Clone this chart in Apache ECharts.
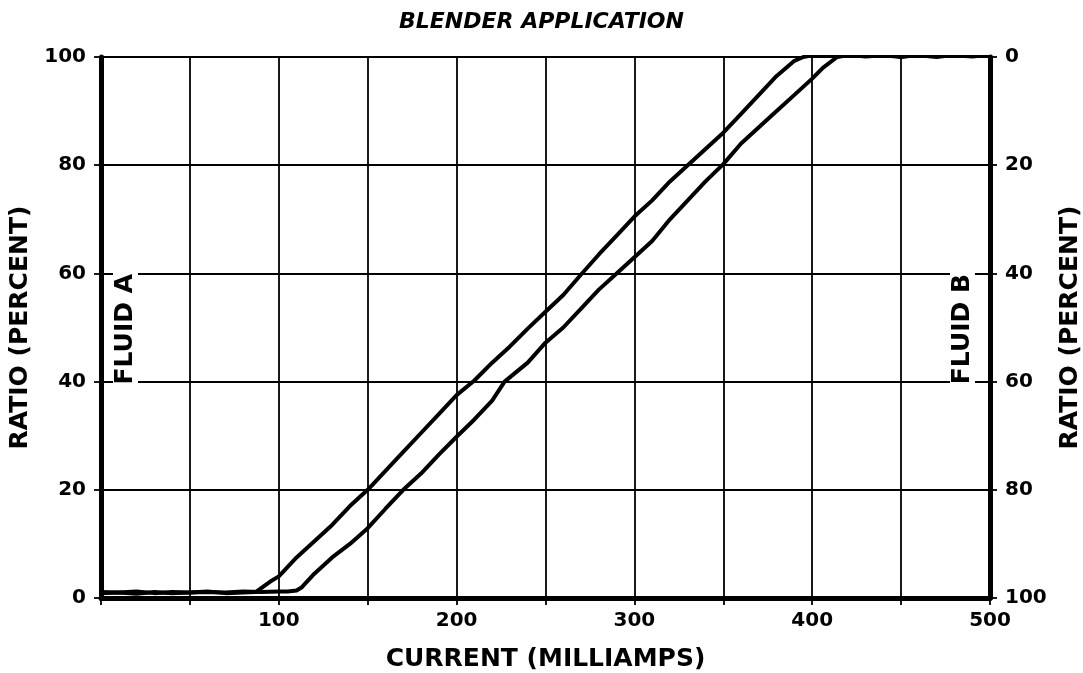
<!DOCTYPE html>
<html>
<head>
<meta charset="utf-8">
<script src="https://cdn.jsdelivr.net/npm/echarts@6/dist/echarts.min.js"></script>
<style>
html,body{margin:0;padding:0;background:#fff;}
#chart{width:1083px;height:673px;}
</style>
</head>
<body>
<div id="chart"></div>
<script>
// Curve A (rises first, upper-left branch)
const currentA = [0, 10, 20, 30, 40, 50, 60, 70, 80, 87, 95, 100, 110, 120, 130, 140, 150, 160, 170, 180, 190, 200, 210, 220, 230, 240, 250, 260, 270, 280, 290, 300, 310, 320, 330, 340, 350, 360, 370, 380, 390, 395, 400, 410, 420, 430, 440, 450, 460, 470, 480, 490, 500];
const ratioA   = [0.9, 1.0, 0.8, 1.1, 0.9, 1.0, 1.2, 0.9, 1.0, 1.1, 3.0, 4.0, 7.5, 10.5, 13.5, 17.0, 20.0, 23.5, 27.0, 30.5, 34.0, 37.5, 40.2, 43.5, 46.5, 49.8, 52.9, 56.0, 59.8, 63.5, 67.0, 70.5, 73.5, 77.0, 80.0, 83.0, 86.0, 89.5, 93.0, 96.5, 99.3, 100.0, 100.3, 100.2, 100.4, 100.1, 100.3, 100.0, 100.4, 100.2, 100.3, 100.1, 100.4];
// Curve B (rises later, lower-right branch)
const currentB = [0, 10, 20, 30, 40, 50, 60, 70, 80, 90, 100, 105, 110, 113, 120, 130, 140, 150, 160, 170, 180, 190, 200, 210, 220, 227, 240, 250, 260, 270, 280, 290, 300, 310, 320, 330, 340, 350, 360, 370, 380, 390, 400, 406, 414, 420, 430, 440, 450, 460, 470, 480, 490, 500];
const ratioB   = [1.1, 1.0, 1.2, 0.9, 1.1, 1.0, 1.1, 1.0, 1.2, 1.1, 1.2, 1.2, 1.4, 2.0, 4.5, 7.5, 10.0, 12.9, 16.5, 20.0, 23.0, 26.5, 29.8, 33.0, 36.5, 40.0, 43.5, 47.2, 50.0, 53.5, 57.0, 60.0, 63.0, 66.0, 70.0, 73.5, 77.0, 80.2, 84.0, 87.0, 90.0, 93.0, 96.0, 98.0, 100.0, 100.3, 100.2, 100.4, 100.1, 100.3, 100.0, 100.4, 100.2, 100.3];

const yTicks = [0, 20, 40, 60, 80, 100];
const xTickLabels = [100, 200, 300, 400, 500];

const zip = (xs, ys) => xs.map((x, i) => [x, ys[i]]);
const FONT = '"DejaVu Sans", "Liberation Sans", Arial, sans-serif';

const chart = echarts.init(document.getElementById('chart'), null, {renderer: 'canvas'});
chart.setOption({
  animation: false,
  backgroundColor: '#fff',
  title: {
    text: 'BLENDER APPLICATION',
    left: 'center',
    top: 6,
    textStyle: {fontFamily: FONT, fontSize: 22, fontWeight: 'bold', fontStyle: 'italic', color: '#000'}
  },
  grid: {left: 101, right: 93, top: 57, bottom: 75, containLabel: false, outerBoundsMode: 'none'},
  xAxis: {
    type: 'value', min: 0, max: 500, interval: 50,
    name: 'CURRENT (MILLIAMPS)', nameLocation: 'middle', nameGap: 49,
    nameTextStyle: {fontFamily: FONT, fontSize: 25, fontWeight: 'bold', color: '#000'},
    axisLine: {show: true, onZero: false, lineStyle: {color: '#000', width: 5}},
    axisTick: {show: true, length: 7, lineStyle: {color: '#000', width: 1.8}},
    splitLine: {show: true, lineStyle: {color: '#000', width: 1.8}},
    axisLabel: {
      margin: 13, color: '#000', fontFamily: FONT, fontSize: 20, fontWeight: 'bold',
      formatter: v => (xTickLabels.indexOf(v) >= 0 ? String(v) : '')
    }
  },
  yAxis: [
    {
      type: 'value', min: 0, max: 100, interval: 20, position: 'left',
      name: 'RATIO (PERCENT)', nameLocation: 'middle', nameGap: 66, nameRotate: 90,
      nameTextStyle: {fontFamily: FONT, fontSize: 25, fontWeight: 'bold', color: '#000'},
      axisLine: {show: true, lineStyle: {color: '#000', width: 5}},
      axisTick: {show: true, length: 7, lineStyle: {color: '#000', width: 1.8}},
      splitLine: {show: true, lineStyle: {color: '#000', width: 1.8}},
      axisLabel: {margin: 15, color: '#000', fontFamily: FONT, fontSize: 20, fontWeight: 'bold',
        formatter: v => (yTicks.indexOf(v) >= 0 ? String(v) : '')}
    },
    {
      type: 'value', min: 0, max: 100, interval: 20, position: 'right', inverse: true,
      name: 'RATIO (PERCENT)', nameLocation: 'middle', nameGap: 63, nameRotate: 90,
      nameTextStyle: {fontFamily: FONT, fontSize: 25, fontWeight: 'bold', color: '#000'},
      axisLine: {show: true, lineStyle: {color: '#000', width: 5}},
      axisTick: {show: true, length: 7, lineStyle: {color: '#000', width: 1.8}},
      splitLine: {show: false},
      axisLabel: {margin: 15, color: '#000', fontFamily: FONT, fontSize: 20, fontWeight: 'bold'}
    }
  ],
  graphic: [
    {
      type: 'text', left: 113, top: 272, rotation: Math.PI / 2, z: 100,
      style: {text: 'FLUID A', fontFamily: FONT, fontSize: 25, fontWeight: 'bold', fill: '#000',
        backgroundColor: '#fff', padding: [0, 2]}
    },
    {
      type: 'text', left: 950, top: 272, rotation: Math.PI / 2, z: 100,
      style: {text: 'FLUID B', fontFamily: FONT, fontSize: 25, fontWeight: 'bold', fill: '#000',
        backgroundColor: '#fff', padding: [0, 2]}
    }
  ],
  series: [
    {type: 'line', yAxisIndex: 0, data: zip(currentA, ratioA), showSymbol: false, smooth: false,
      lineStyle: {color: '#000', width: 4}, z: 5},
    {type: 'line', yAxisIndex: 0, data: zip(currentB, ratioB), showSymbol: false, smooth: false,
      lineStyle: {color: '#000', width: 4}, z: 5}
  ]
});
</script>
</body>
</html>
